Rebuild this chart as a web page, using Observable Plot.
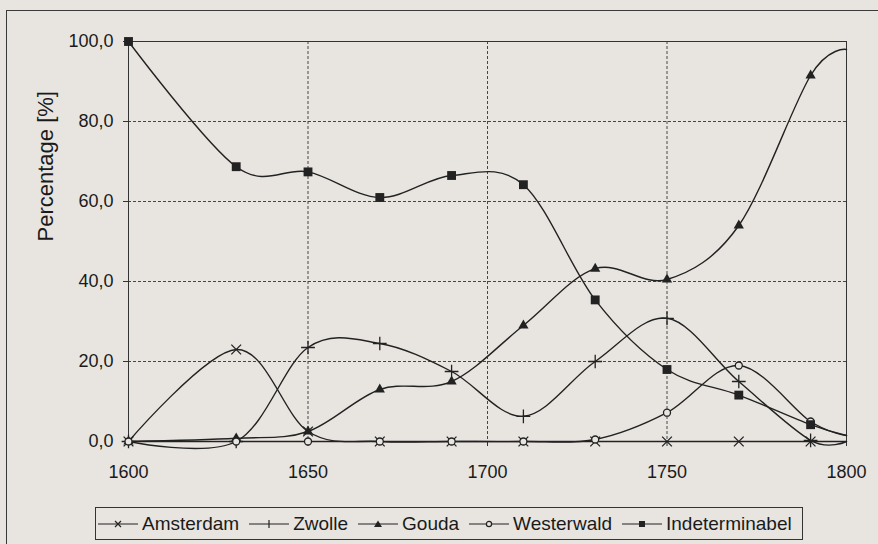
<!DOCTYPE html>
<html><head><meta charset="utf-8">
<script src="https://cdn.jsdelivr.net/npm/d3@7"></script>
<script src="https://cdn.jsdelivr.net/npm/@observablehq/plot@0.6"></script>
<style>
html,body{margin:0;padding:0;background:#e8e5e0;width:878px;height:544px;overflow:hidden;position:relative;}
#frame{position:absolute;left:6px;top:10px;width:900px;height:600px;border:1px solid #3a3a3a;box-sizing:border-box;}
#chart{position:absolute;left:0;top:0;}
#legend{position:absolute;left:95px;top:507px;height:33px;display:flex;align-items:center;border:1px solid #333;box-sizing:border-box;padding:0 10px 0 2px;font-family:"Liberation Sans",Arial,sans-serif;font-size:19px;color:#1a1a1a;}
.item{display:flex;align-items:center;margin-left:10px}
.item:first-child{margin-left:0}
.item span{margin-left:4px}
</style></head><body>
<div id="frame"></div><div id="chart"></div><div id="legend"></div>
<script>
const years      = [1600, 1630, 1650, 1670, 1690, 1710, 1730, 1750, 1770, 1790, 1800];
const amsterdam  = [0, 23, 2.5, 0, 0, 0, 0, 0, 0, 0, 0];
const zwolle     = [0, 0, 23.5, 24.5, 17.5, 6.3, 20, 30.8, 15, 0.3, 0];
const gouda      = [0, 0.8, 2.5, 13, 15, 29, 43.2, 40.5, 54, 91.5, 98];
const westerwald = [0, 0, 0, 0, 0, 0, 0.5, 7.2, 19, 5, 1.5];
const indet      = [100, 68.7, 67.4, 61, 66.5, 64.2, 35.4, 18, 11.6, 4.2, 1.5];
const seriesNames = ["Amsterdam", "Zwolle", "Gouda", "Westerwald", "Indeterminabel"];
const xTicks = [1600, 1650, 1700, 1750, 1800];
const yTicks = [0, 20, 40, 60, 80, 100];

const ink = "#222";
const bg = "#e8e5e0";
const series = [
  {name: seriesNames[0], values: amsterdam, symbol: "times", fill: "none", stroke: ink, r: 4.5},
  {name: seriesNames[1], values: zwolle, symbol: "plus", fill: "none", stroke: ink, r: 4.5},
  {name: seriesNames[2], values: gouda, symbol: "triangle", fill: ink, stroke: "none", r: 3.8},
  {name: seriesNames[3], values: westerwald, symbol: "circle", fill: bg, stroke: ink, r: 3.5},
  {name: seriesNames[4], values: indet, symbol: "square", fill: ink, stroke: "none", r: 5}
];
const rows = series.flatMap(s => years.map((y, i) => ({series: s.name, year: y, value: s.values[i]})));
const fmt = d => d.toFixed(1).replace(".", ",");

const chart = Plot.plot({
  width: 878, height: 491,
  marginLeft: 128, marginRight: 32, marginTop: 41, marginBottom: 50,
  style: {background: "transparent", fontFamily: "'Liberation Sans', Arial, sans-serif", fontSize: "18px", color: "#1a1a1a"},
  x: {domain: [1600, 1800], label: null},
  y: {domain: [0, 100], label: null},
  marks: [
    Plot.gridX([1650, 1700, 1750], {stroke: "#333", strokeOpacity: 0.9, strokeDasharray: "3,2"}),
    Plot.gridY([20, 40, 60, 80], {stroke: "#333", strokeOpacity: 0.9, strokeDasharray: "3,2"}),
    Plot.frame({stroke: "#333"}),
    Plot.axisX({ticks: xTicks, tickFormat: d => String(d), tickSize: 5, tickPadding: 19, stroke: "#333", label: null}),
    Plot.axisY({ticks: yTicks, tickFormat: fmt, tickSize: 5, tickPadding: 10, stroke: "#333", label: null}),
    Plot.line(rows, {x: "year", y: "value", z: "series", curve: "cardinal", stroke: ink, strokeWidth: 1.4}),
    ...series.map(s => Plot.dot(rows.filter(d => d.series === s.name && d.year <= 1790),
      {x: "year", y: "value", symbol: () => s.symbol, fill: s.fill, stroke: s.stroke, strokeWidth: 1.3, r: s.r})),
    Plot.text(["Percentage [%]"], {frameAnchor: "left", dx: -83, rotate: -90, fontSize: 22, fill: "#1a1a1a"})
  ]
});
document.getElementById("chart").appendChild(chart);

// legend
const icons = {
  times: '<path d="M17 4 L23 10 M23 4 L17 10" stroke="#222" stroke-width="1.2" fill="none"/>',
  plus: '<path d="M20 3 L20 11" stroke="#222" stroke-width="1.2"/>',
  triangle: '<path d="M20 3.5 L24 10 L16 10 Z" fill="#222"/>',
  circle: '<circle cx="20" cy="7" r="2.6" fill="' + bg + '" stroke="#222" stroke-width="1.2"/>',
  square: '<rect x="17" y="4" width="6" height="6" fill="#222"/>'
};
const legend = document.getElementById("legend");
series.forEach(s => {
  const item = document.createElement("div");
  item.className = "item";
  item.innerHTML = '<svg width="40" height="14"><line x1="0" x2="40" y1="7" y2="7" stroke="#222" stroke-width="1.2"/>' + icons[s.symbol] + '</svg><span>' + s.name + '</span>';
  legend.appendChild(item);
});
</script>
</body></html>
